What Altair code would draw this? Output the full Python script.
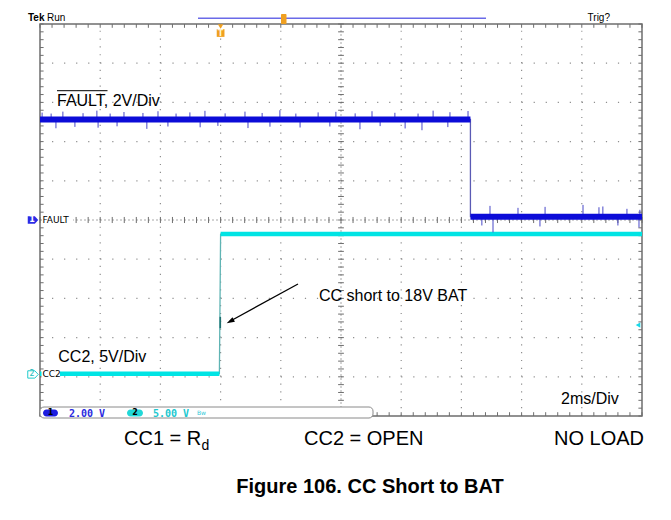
import altair as alt
import numpy as np
import pandas as pd

# ---------------- scope settings ----------------
MS_PER_DIV = 2.0
X_DIVS = 10
Y_DIVS = 10
CH1_V_PER_DIV = 2.0      # FAULT
CH2_V_PER_DIV = 5.0      # CC2
CH1_GROUND_DIV = 0.0
CH2_GROUND_DIV = -3.94

# ---------------- traces ----------------
FAULT_T_MS = [0.0, 14.30, 14.30, 20.0]
FAULT_V = [5.13, 5.13, 0.17, 0.17]

CC2_T_MS = [0.0, 5.96, 6.00, 20.0]
CC2_V = [0.10, 0.10, 17.9, 17.9]
CC2_DWELL_T_MS = 5.99
CC2_DWELL_V = [5.9, 7.35]

# noise spikes on the FAULT trace: time (ms) and excursion from the level (V)
FAULT_SPIKE_T_MS = [0.07, 0.37, 0.76, 1.43, 1.89, 2.33, 2.79, 3.42, 3.92, 4.52, 4.98,
                    5.48, 6.15, 6.81, 7.38, 7.97, 8.50, 9.24, 9.83, 10.47, 11.03, 11.79,
                    12.56, 13.06, 13.62, 14.22,
                    0.53, 1.16, 1.93, 2.56, 3.55, 4.25, 5.32, 5.91, 6.91, 7.64, 8.64,
                    9.63, 10.63, 11.30, 12.13, 12.69, 13.55,
                    14.95, 15.88, 16.78, 18.04, 18.57, 18.70, 19.50, 19.93,
                    14.68, 15.05, 16.61, 19.20, 19.90]
FAULT_SPIKE_DV = [0.35, 0.30, 0.40, 0.32, 0.45, 0.30, 0.38, 0.33, 0.42, 0.30, 0.36,
                  0.44, 0.31, 0.40, 0.33, 0.47, 0.30, 0.36, 0.39, 0.31, 0.42, 0.34,
                  0.30, 0.45, 0.37, 0.43,
                  -0.45, -0.38, -0.42, -0.35, -0.48, -0.36, -0.40, -0.33, -0.44, -0.37, -0.41,
                  -0.36, -0.50, -0.34, -0.46, -0.55, -0.39,
                  0.55, 0.45, 0.50, 0.60, 0.48, 0.52, 0.40, 0.35,
                  -0.45, -0.80, -0.50, -0.45, -0.55]
FAULT_FALL_MS = 14.30

TRIGGER_T_MS = 6.0
TRIGGER_LEVEL_V = 6.3

# ---------------- text ----------------
TITLE = "Figure 106. CC Short to BAT"
FAULT_LABEL = "FAULT, 2V/Div"
CC2_LABEL = "CC2, 5V/Div"
ARROW_LABEL = "CC short to 18V BAT"
TIMEBASE_LABEL = "2ms/Div"
COND = ["CC1 = R", "CC2 = OPEN", "NO LOAD"]

FONT = "Liberation Sans"
BLUE = "#0c0cd8"
BLUE_SPIKE = "#4848c8"
CYAN = "#00e4e4"
GRID = "#8f8f8f"
BORDER = "#6e6e6e"
ORANGE = "#f0a020"

W, H = 602, 392
XMAX = MS_PER_DIV * X_DIVS
YMAX = Y_DIVS / 2

XS = alt.Scale(domain=[0, XMAX], nice=False, zero=False)
YS = alt.Scale(domain=[-YMAX, YMAX], nice=False, zero=False)


def X(f):
    return alt.X(f, scale=XS, axis=None)


def Y(f):
    return alt.Y(f, scale=YS, axis=None)


def ch1(v):
    return CH1_GROUND_DIV + np.asarray(v, dtype=float) / CH1_V_PER_DIV


def ch2(v):
    return CH2_GROUND_DIV + np.asarray(v, dtype=float) / CH2_V_PER_DIV


ONE = pd.DataFrame({"k": [0]})


def txt(s, px, py, size, color="black", weight="normal", font=FONT, align="left",
        baseline="alphabetic"):
    return alt.Chart(ONE).mark_text(fontSize=size, color=color, fontWeight=weight,
                                    font=font, align=align, baseline=baseline).encode(
        x=alt.value(px), y=alt.value(py), text=alt.value(s))


def prule(x1, y1, x2, y2, color="black", width=1.0, dash=None):
    kw = dict(color=color, strokeWidth=width)
    if dash:
        kw["strokeDash"] = dash
    return alt.Chart(ONE).mark_rule(**kw).encode(
        x=alt.value(x1), y=alt.value(y1), x2=alt.value(x2), y2=alt.value(y2))


layers = []

# ---------------- graticule ----------------
major_x = [MS_PER_DIV * i for i in range(1, X_DIVS) if i != X_DIVS // 2]
major_y = [i for i in range(-int(YMAX) + 1, int(YMAX)) if i != 0]
gv = pd.DataFrame({"x": major_x, "y": -YMAX, "y2": YMAX})
gh = pd.DataFrame({"y": major_y, "x": 0.0, "x2": XMAX})
layers.append(alt.Chart(gv).mark_rule(color=GRID, strokeWidth=1.2, strokeDash=[1.2, 6.64]).encode(
    x=X("x:Q"), y=Y("y:Q"), y2="y2:Q"))
layers.append(alt.Chart(gh).mark_rule(color=GRID, strokeWidth=1.2, strokeDash=[1.2, 10.84]).encode(
    y=Y("y:Q"), x=X("x:Q"), x2="x2:Q"))
# centre cross
cc = pd.DataFrame({"x": [XMAX / 2], "y": [-YMAX], "y2": [YMAX]})
layers.append(alt.Chart(cc).mark_rule(color="#a8a8a8", strokeWidth=1, strokeDash=[2, 2]).encode(
    x=X("x:Q"), y=Y("y:Q"), y2="y2:Q"))
ch = pd.DataFrame({"y": [0.0], "x": [0.0], "x2": [XMAX]})
layers.append(alt.Chart(ch).mark_rule(color="#a8a8a8", strokeWidth=1, strokeDash=[2, 2]).encode(
    y=Y("y:Q"), x=X("x:Q"), x2="x2:Q"))

xm = np.round(np.arange(0, XMAX + 1e-9, MS_PER_DIV / 5), 4)
ym = np.round(np.arange(-YMAX, YMAX + 1e-9, 0.2), 4)
tx = 3.6 / W * XMAX
ty = 3.8 / H * (2 * YMAX)
ticks = pd.concat([
    pd.DataFrame({"x": xm, "x2": xm, "y": YMAX, "y2": YMAX - ty}),
    pd.DataFrame({"x": xm, "x2": xm, "y": -YMAX, "y2": -YMAX + ty}),
    pd.DataFrame({"x": 0.0, "x2": tx, "y": ym, "y2": ym}),
    pd.DataFrame({"x": XMAX, "x2": XMAX - tx, "y": ym, "y2": ym}),
    pd.DataFrame({"x": XMAX / 2 - tx * 0.8, "x2": XMAX / 2 + tx * 0.8, "y": ym, "y2": ym}),
    pd.DataFrame({"x": xm, "x2": xm, "y": -ty * 0.8, "y2": ty * 0.8}),
])
layers.append(alt.Chart(ticks).mark_rule(color=BORDER, strokeWidth=1).encode(
    x=X("x:Q"), x2="x2:Q", y=Y("y:Q"), y2="y2:Q"))
border = pd.DataFrame({"x": [0.0], "x2": [XMAX], "y": [-YMAX], "y2": [YMAX]})
layers.append(alt.Chart(border).mark_rect(fillOpacity=0, stroke=BORDER, strokeWidth=1.5).encode(
    x=X("x:Q"), x2="x2:Q", y=Y("y:Q"), y2="y2:Q"))

# ---------------- CC2 trace (channel 2) ----------------
cc2 = pd.DataFrame({"t": CC2_T_MS, "y": ch2(CC2_V), "i": range(len(CC2_T_MS))})
layers.append(alt.Chart(cc2).mark_line(color="#5fb4b4", strokeWidth=1.3).encode(
    x=X("t:Q"), y=Y("y:Q"), order="i:Q"))
cc2_lv = pd.DataFrame({"t0": [CC2_T_MS[0], CC2_T_MS[2]], "t1": [CC2_T_MS[1], CC2_T_MS[3]],
                       "y": [ch2(CC2_V[0]), ch2(CC2_V[2])]})
layers.append(alt.Chart(cc2_lv).mark_rule(color=CYAN, strokeWidth=4.5, strokeCap="butt").encode(
    x=X("t0:Q"), x2="t1:Q", y=Y("y:Q")))
dw = pd.DataFrame({"t": [CC2_DWELL_T_MS], "y": [ch2(CC2_DWELL_V[0])], "y2": [ch2(CC2_DWELL_V[1])]})
layers.append(alt.Chart(dw).mark_rule(color="#1f6f6f", strokeWidth=1.6).encode(
    x=X("t:Q"), y=Y("y:Q"), y2="y2:Q"))

# ---------------- FAULT trace (channel 1) ----------------
ft = pd.DataFrame({"t": FAULT_T_MS, "y": ch1(FAULT_V), "i": range(len(FAULT_T_MS))})
layers.append(alt.Chart(ft).mark_line(color="#5a5ab4", strokeWidth=1.3).encode(
    x=X("t:Q"), y=Y("y:Q"), order="i:Q"))
sp_t = np.asarray(FAULT_SPIKE_T_MS)
sp_base = np.where(sp_t < FAULT_FALL_MS, FAULT_V[0], FAULT_V[2])
sp = pd.DataFrame({"t": sp_t, "y": ch1(sp_base), "y2": ch1(sp_base + np.asarray(FAULT_SPIKE_DV))})
layers.append(alt.Chart(sp).mark_rule(color=BLUE_SPIKE, strokeWidth=1).encode(
    x=X("t:Q"), y=Y("y:Q"), y2="y2:Q"))
f_lv = pd.DataFrame({"t0": [FAULT_T_MS[0], FAULT_T_MS[2]], "t1": [FAULT_T_MS[1], FAULT_T_MS[3]],
                     "y": [ch1(FAULT_V[0]), ch1(FAULT_V[2])]})
layers.append(alt.Chart(f_lv).mark_rule(color=BLUE, strokeWidth=6, strokeCap="butt").encode(
    x=X("t0:Q"), x2="t1:Q", y=Y("y:Q")))

# ---------------- channel ground markers ----------------
TAG = "M-1,-0.7L0.35,-0.7L1,0L0.35,0.7L-1,0.7Z"
g1 = pd.DataFrame({"y": [CH1_GROUND_DIV]})
g2 = pd.DataFrame({"y": [CH2_GROUND_DIV]})
for g, wlab in ((g1, 33), (g2, 20)):
    layers.append(alt.Chart(g).mark_rect(color="white", height=8).encode(
        x=alt.value(1.5), x2=alt.value(wlab), y=Y("y:Q")))
layers.append(alt.Chart(g1).mark_point(shape=TAG, size=110, filled=True, color="#2a2ae6", opacity=1).encode(
    x=alt.value(-7), y=Y("y:Q")))
layers.append(alt.Chart(g1).mark_text(text="1", fontSize=8, fontWeight="bold", color="white",
                                      font="DejaVu Sans", baseline="middle").encode(
    x=alt.value(-8), y=Y("y:Q")))
layers.append(alt.Chart(g1).mark_text(text="FAULT", fontSize=9, color="black", font="DejaVu Sans",
                                      align="left", baseline="middle").encode(
    x=alt.value(2.5), y=Y("y:Q")))
layers.append(alt.Chart(g2).mark_point(shape=TAG, size=110, filled=True, color="white", opacity=1,
                                       stroke="#22cccc", strokeWidth=1).encode(
    x=alt.value(-7), y=Y("y:Q")))
layers.append(alt.Chart(g2).mark_text(text="2", fontSize=8, color="#22bbbb",
                                      font="DejaVu Sans", baseline="middle").encode(
    x=alt.value(-8), y=Y("y:Q")))
layers.append(alt.Chart(g2).mark_text(text="CC2", fontSize=9, color="black", font="DejaVu Sans",
                                      align="left", baseline="middle").encode(
    x=alt.value(2.5), y=Y("y:Q")))

# trigger level marker (right edge)
tl = pd.DataFrame({"t": [XMAX], "y": [ch2(TRIGGER_LEVEL_V)]})
layers.append(alt.Chart(tl).mark_point(shape="triangle-left", size=28, filled=True, color="#18d8e8",
                                       opacity=1, xOffset=-4).encode(x=X("t:Q"), y=Y("y:Q")))

# trigger position marker (top)
tp = pd.DataFrame({"t": [TRIGGER_T_MS]})
layers.append(alt.Chart(tp).mark_point(shape="triangle-down", size=30, filled=True, color=ORANGE,
                                       opacity=1).encode(x=X("t:Q"), y=alt.value(2.5)))
layers.append(alt.Chart(tp).mark_point(shape="square", size=60, filled=True, color=ORANGE,
                                       opacity=1).encode(x=X("t:Q"), y=alt.value(9)))
layers.append(alt.Chart(tp).mark_text(text="T", fontSize=8, fontWeight="bold", color="#fff3d0",
                                      font="DejaVu Sans", baseline="middle").encode(
    x=X("t:Q"), y=alt.value(9.5)))

# ---------------- header ----------------
layers.append(prule(-40, -18, 623, -18, "black", 1.5))
layers.append(txt("Tek", -12, -3.5, 10, weight="bold"))
layers.append(txt("Run", 7, -3.5, 10))
layers.append(txt("Trig?", 570, -3.5, 10, align="right"))
layers.append(prule(158, -5.7, 446, -5.7, "#6a6ae8", 1.5))
layers.append(alt.Chart(ONE).mark_rect(color=ORANGE, cornerRadius=1).encode(
    x=alt.value(241), x2=alt.value(246.5), y=alt.value(-10), y2=alt.value(0)))

# ---------------- annotations ----------------
layers.append(txt(FAULT_LABEL, 17, 82, 16))
layers.append(prule(17, 66.7, 67.5, 66.7, "black", 1))
layers.append(txt(CC2_LABEL, 18.3, 338.3, 16))
layers.append(txt(ARROW_LABEL, 279, 277, 16))
layers.append(txt(TIMEBASE_LABEL, 521, 379.6, 16))
layers.append(prule(258, 260, 190, 297.2, "black", 1.3))
layers.append(alt.Chart(ONE).mark_point(shape="M0,0L-0.32,1L0.32,1Z", size=256, filled=True,
                                        color="black", opacity=1, angle=241).encode(
    x=alt.value(186.7), y=alt.value(299.3)))

# ---------------- status bar ----------------
layers.append(alt.Chart(ONE).mark_rect(fill="white", stroke="#8a8a8a", strokeWidth=1,
                                       cornerRadius=4).encode(
    x=alt.value(0), x2=alt.value(333), y=alt.value(383), y2=alt.value(394)))
layers.append(alt.Chart(ONE).mark_rect(fill="#1c1ce0", cornerRadius=3.5).encode(
    x=alt.value(3), x2=alt.value(18), y=alt.value(385.5), y2=alt.value(392.5)))
layers.append(txt("1", 10.5, 389.2, 8, color="black", weight="bold", font="DejaVu Sans",
                  align="center", baseline="middle"))
layers.append(txt("2.00 V", 29, 392.5, 10, color="#2a2ae0", weight="bold", font="DejaVu Sans Mono"))
layers.append(alt.Chart(ONE).mark_rect(fill="#20d8d8", cornerRadius=3.5).encode(
    x=alt.value(87), x2=alt.value(103), y=alt.value(385.5), y2=alt.value(392.5)))
layers.append(txt("2", 95, 389.2, 8, color="black", weight="bold", font="DejaVu Sans",
                  align="center", baseline="middle"))
layers.append(txt("5.00 V", 113, 392.5, 10, color="#20c8d0", weight="bold", font="DejaVu Sans Mono"))
layers.append(txt("Bw", 157, 391, 6, color="#30c8d8", font="DejaVu Sans"))

# ---------------- captions ----------------
layers.append(txt(COND[0], 84, 421, 20))
layers.append(txt("d", 161.5, 426, 14))
layers.append(txt(COND[1], 264, 421, 20))
layers.append(txt(COND[2], 514, 421, 20))
layers.append(txt(TITLE, 330, 469, 20, weight="bold", align="center"))

chart = alt.layer(*layers).properties(
    width=W, height=H,
    autosize=alt.AutoSizeParams(type="none"),
    padding={"left": 32, "top": 16, "right": 21, "bottom": 85},
    background="white",
).configure_view(stroke=None)

chart.save("out.html", embed_options={"renderer": "svg", "actions": False})
